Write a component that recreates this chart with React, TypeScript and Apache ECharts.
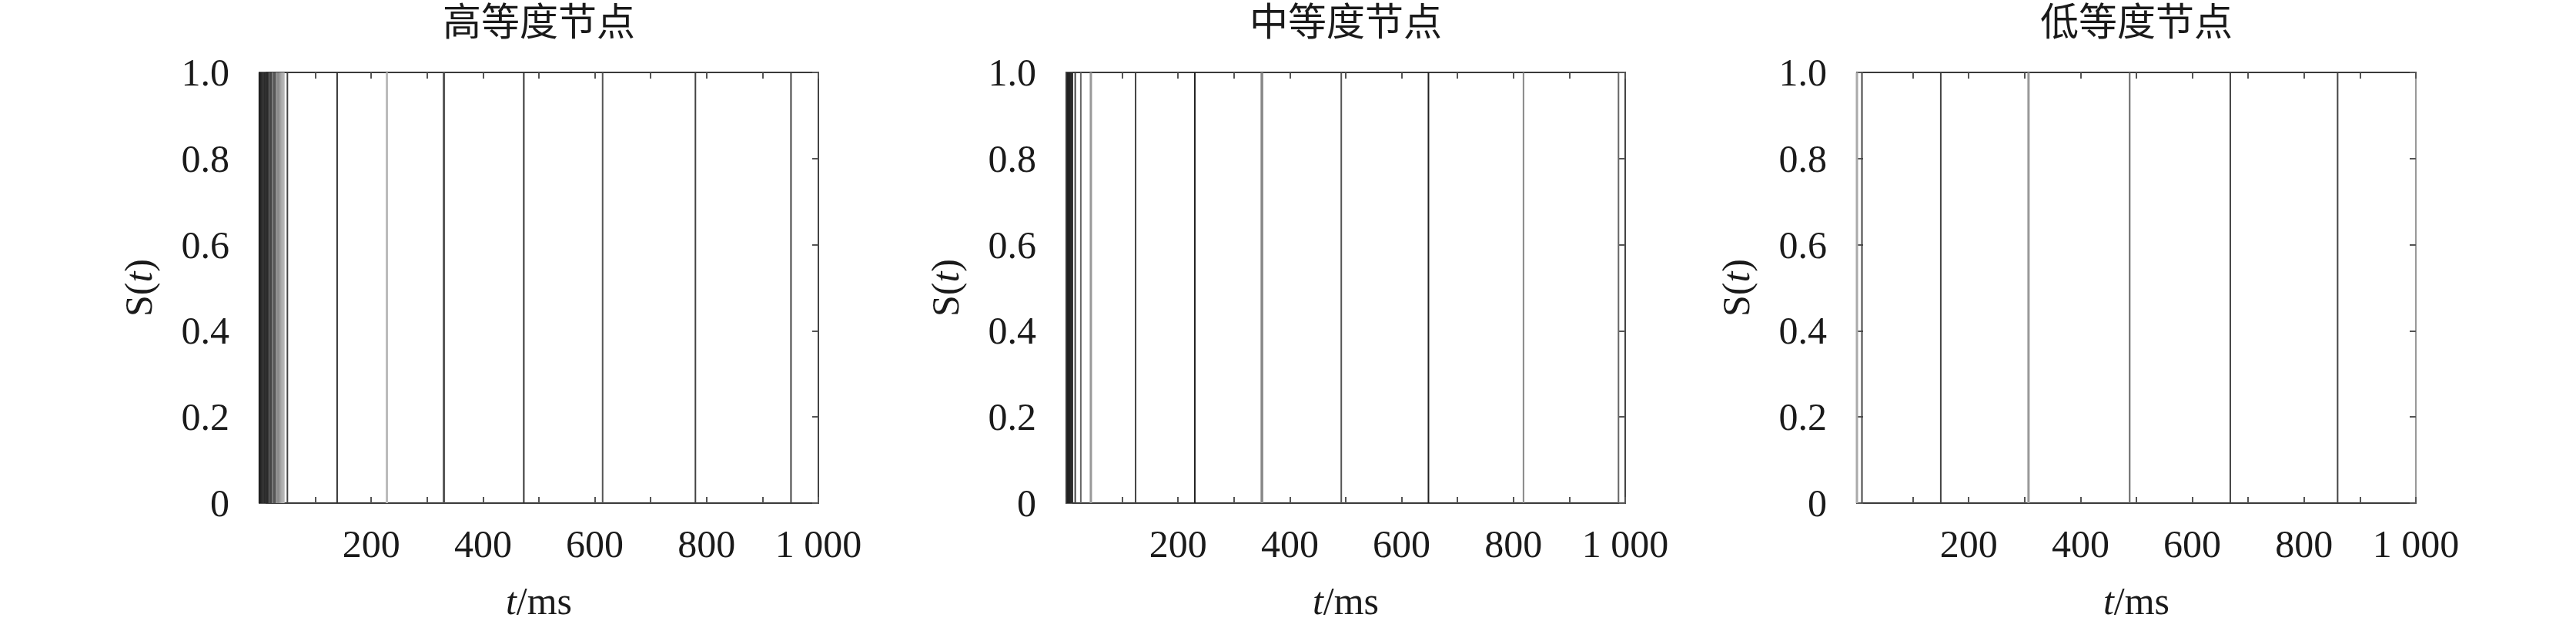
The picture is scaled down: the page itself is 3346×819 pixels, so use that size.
import React, { useEffect, useRef } from 'react';
import * as echarts from 'echarts';

// ---- data ----
const panelTitles = ['高等度节点', '中等度节点', '低等度节点'];
const xTickValues = [0, 200, 400, 600, 800, 1000];
const yTickValues = [0, 0.2, 0.4, 0.6, 0.8, 1.0];

// spike times (ms) and S(t) level of each spike
const highSpikeTimes = [0.5, 2.5, 4.5, 6.5, 8.5, 10.5, 12.5, 14.5, 16.5, 18.5, 20.5, 22.5, 24.5, 26.5, 29, 31.5, 34, 37, 40, 43, 50, 139, 228, 330, 473, 614, 780, 951];
const highSpikeLevels = [1, 1, 1, 1, 1, 1, 1, 1, 1, 1, 1, 1, 1, 1, 1, 1, 1, 1, 1, 1, 1, 1, 1, 1, 1, 1, 1, 1];
const midSpikeTimes = [1, 3.5, 6, 8.5, 11, 16, 26, 44, 124, 230, 350, 492, 648, 818, 988];
const midSpikeLevels = [1, 1, 1, 1, 1, 1, 1, 1, 1, 1, 1, 1, 1, 1, 1];
const lowSpikeTimes = [0, 9, 150, 307, 488, 668, 860];
const lowSpikeLevels = [1, 1, 1, 1, 1, 1, 1];

// ---- styles (kept apart from the data) ----
const highShades = ['#222', '#222', '#2a2a2a', '#333', '#333', '#2a2a2a', '#333', '#2a2a2a', '#3a3a3a', '#666', '#444', '#4a4a4a', '#888', '#555', '#5a5a5a', '#999', '#888', '#999', '#aaa', '#b5b5b5', '#444', '#333', '#bbb', '#555', '#333', '#555', '#444', '#444'];
const highWidths = [3, 3, 3, 3, 3, 3, 3, 3, 2, 2, 3, 2, 3, 3, 3, 3, 3, 3, 3, 3, 2, 2, 3, 3, 2, 2, 2, 2];
const midShades = ['#333', '#222', '#222', '#2a2a2a', '#333', '#444', '#666', '#999', '#444', '#222', '#888', '#555', '#222', '#888', '#666'];
const midWidths = [3, 3, 3, 3, 2, 2, 2, 3, 2, 2, 3.5, 2, 2, 2, 2];
const lowShades = ['#aaa', '#444', '#444', '#999', '#666', '#444', '#444'];
const lowWidths = [3, 2, 2, 3, 2, 2, 2];

const panels = [
  { times: highSpikeTimes, levels: highSpikeLevels, shades: highShades, widths: highWidths, rightColor: '#444' },
  { times: midSpikeTimes, levels: midSpikeLevels, shades: midShades, widths: midWidths, rightColor: '#444' },
  { times: lowSpikeTimes, levels: lowSpikeLevels, shades: lowShades, widths: lowWidths, rightColor: '#999' },
];

const gridLefts = [337, 1385, 2412];
const gridTop = 94;
const gridWidth = 726;
const gridHeight = 559;
const FONT = "'Liberation Serif', 'Times New Roman', 'Noto Sans CJK SC', serif";
const TEXT = '#1a1a1a';
const AXIS = '#3a3a3a';

function fmtX(v: number) {
  if (v === 0 || !xTickValues.includes(v)) return '';
  return String(v).replace(/\B(?=(\d{3})+(?!\d))/g, ' ');
}
function fmtY(v: number) {
  const r = Math.round(v * 10) / 10;
  if (!yTickValues.some((t) => Math.abs(t - r) < 1e-9)) return '';
  return r === 0 ? '0' : r.toFixed(1);
}

export default function App() {
  const ref = useRef<HTMLDivElement>(null);
  useEffect(() => {
    if (!ref.current) return;
    document.body.style.margin = '0';
    const chart = echarts.init(ref.current, undefined, { renderer: 'svg' });

    const grid: any[] = [];
    const xAxis: any[] = [];
    const yAxis: any[] = [];
    const series: any[] = [];
    const title: any[] = [];

    panels.forEach((p, i) => {
      const left = gridLefts[i];
      grid.push({ left, top: gridTop, width: gridWidth, height: gridHeight, containLabel: false });
      title.push({
        text: panelTitles[i],
        left: left + gridWidth / 2,
        top: 4,
        padding: 0,
        textAlign: 'center',
        textStyle: { fontSize: 50, fontWeight: 'normal', fontFamily: FONT, color: TEXT },
      });
      xAxis.push({
        type: 'value', gridIndex: i, min: 0, max: 1000, interval: 100, position: 'bottom',
        axisLine: { show: true, onZero: false, lineStyle: { color: AXIS, width: 2 } },
        axisTick: { show: true, inside: true, length: 8, lineStyle: { color: '#555', width: 2 } },
        axisLabel: { formatter: fmtX, fontSize: 50, fontFamily: FONT, color: TEXT, margin: 28 },
        splitLine: { show: false },
        name: '{i|t}/ms', nameLocation: 'middle', nameGap: 102,
        nameTextStyle: {
          fontSize: 50, fontFamily: FONT, color: TEXT,
          rich: { i: { fontStyle: 'italic', fontSize: 50, fontFamily: FONT, color: TEXT } },
        },
      });
      xAxis.push({
        type: 'value', gridIndex: i, min: 0, max: 1000, interval: 100, position: 'top',
        axisLine: { show: true, onZero: false, lineStyle: { color: AXIS, width: 2 } },
        axisTick: { show: true, inside: true, length: 8, lineStyle: { color: '#555', width: 2 } },
        axisLabel: { show: false },
        splitLine: { show: false },
      });
      yAxis.push({
        type: 'value', gridIndex: i, min: 0, max: 1, interval: 0.2, position: 'left',
        axisLine: { show: true, onZero: false, lineStyle: { color: AXIS, width: 2 } },
        axisTick: { show: true, inside: true, length: 8, lineStyle: { color: '#555', width: 2 } },
        axisLabel: { formatter: fmtY, fontSize: 50, fontFamily: FONT, color: TEXT, margin: 39 },
        splitLine: { show: false },
        name: 'S({i|t})', nameLocation: 'middle', nameRotate: 90, nameGap: 132,
        nameTextStyle: {
          fontSize: 50, fontFamily: FONT, color: TEXT,
          rich: { i: { fontStyle: 'italic', fontSize: 50, fontFamily: FONT, color: TEXT } },
        },
      });
      yAxis.push({
        type: 'value', gridIndex: i, min: 0, max: 1, interval: 0.2, position: 'right',
        axisLine: { show: true, onZero: false, lineStyle: { color: p.rightColor, width: 2 } },
        axisTick: { show: true, inside: true, length: 8, lineStyle: { color: '#555', width: 2 } },
        axisLabel: { show: false },
        splitLine: { show: false },
      });
      series.push({
        type: 'custom',
        xAxisIndex: 2 * i,
        yAxisIndex: 2 * i,
        data: p.times.map((t, k) => [t, p.levels[k]]),
        encode: { x: 0, y: 1 },
        renderItem: (params: any, api: any) => {
          const t = api.value(0);
          const s = api.value(1);
          const p0 = api.coord([t, 0]);
          const p1 = api.coord([t, s]);
          const k = params.dataIndex;
          return {
            type: 'line',
            shape: { x1: p0[0], y1: p0[1], x2: p1[0], y2: p1[1] },
            style: { stroke: p.shades[k], lineWidth: p.widths[k] },
          };
        },
        silent: true,
      });
    });

    chart.setOption({
      animation: false,
      backgroundColor: '#fff',
      title,
      grid,
      xAxis,
      yAxis,
      series,
    });
    return () => chart.dispose();
  }, []);

  return (
    <div
      ref={ref}
      style={{ position: 'absolute', left: 0, top: 0, width: 3346, height: 819 }}
    />
  );
}
